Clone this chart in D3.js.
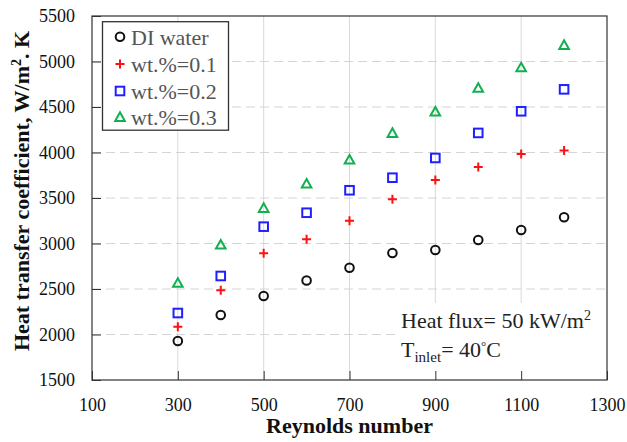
<!DOCTYPE html>
<html>
<head>
<meta charset="utf-8">
<script src="https://cdn.jsdelivr.net/npm/d3@7"></script>
<style>
  html, body { margin: 0; padding: 0; background: #fff; }
  svg { display: block; }
  svg text { font-family: 'Liberation Serif', 'Times New Roman', serif; }
</style>
</head>
<body>
<svg id="chart" width="627" height="442"></svg>
<script>
const reynolds = [300, 400, 500, 600, 700, 800, 900, 1000, 1100, 1200];
const diWater = [1928, 2214, 2423, 2594, 2734, 2896, 2929, 3038, 3148, 3288];
const wt01    = [2086, 2486, 2892, 3046, 3251, 3486, 3698, 3841, 3984, 4021];
const wt02    = [2236, 2643, 3185, 3338, 3585, 3723, 3940, 4215, 4453, 4694];
const wt03    = [2563, 2984, 3387, 3654, 3918, 4211, 4445, 4706, 4932, 5178];
const seriesNames = ["DI water", "wt.%=0.1", "wt.%=0.2", "wt.%=0.3"];
const xTicks = [100, 300, 500, 700, 900, 1100, 1300];
const yTicks = [1500, 2000, 2500, 3000, 3500, 4000, 4500, 5000, 5500];

const svg = d3.select("#chart");
const m = {left: 92, right: 607, top: 16, bottom: 380};
const x = d3.scaleLinear().domain([100, 1300]).range([m.left, m.right]);
const y = d3.scaleLinear().domain([1500, 5500]).range([m.bottom, m.top]);
const font = "'Liberation Serif', 'Times New Roman', serif";

// gridlines
svg.append("g").selectAll("line").data(xTicks.slice(1, -1)).join("line")
  .attr("x1", d => x(d)).attr("x2", d => x(d))
  .attr("y1", m.top).attr("y2", m.bottom)
  .attr("stroke", "#d9d9d9").attr("stroke-width", 1);
svg.append("g").selectAll("line").data(yTicks.slice(1, -1)).join("line")
  .attr("x1", m.left).attr("x2", m.right)
  .attr("y1", d => y(d)).attr("y2", d => y(d))
  .attr("stroke", "#d4d4d4").attr("stroke-width", 1)
  .attr("stroke-dasharray", "9,5");

// annotation background
svg.append("rect").attr("x", 395).attr("y", 303).attr("width", m.right - 396).attr("height", m.bottom - 304)
  .attr("fill", "#fff");

// axes (ticks inward)
const fmt = d3.format("d");
const xAxis = d3.axisBottom(x).tickValues(xTicks).tickFormat(fmt).tickSizeInner(-9).tickSizeOuter(0).tickPadding(20);
const gx = svg.append("g").attr("transform", `translate(0,${m.bottom})`).call(xAxis);
const yAxis = d3.axisLeft(y).tickValues(yTicks).tickFormat(fmt).tickSizeInner(-9).tickSizeOuter(0).tickPadding(17);
const gy = svg.append("g").attr("transform", `translate(${m.left},0)`).call(yAxis);
[gx, gy].forEach(g => {
  g.attr("font-family", font).attr("font-size", 18);
  g.select(".domain").remove();
  g.selectAll(".tick line").attr("stroke", "#333");
  g.selectAll(".tick text").style("font-family", font).attr("font-size", 18).attr("fill", "#111");
});
gx.selectAll(".tick text").attr("dy", "0.6em");

// frame
svg.append("rect").attr("x", m.left).attr("y", m.top)
  .attr("width", m.right - m.left).attr("height", m.bottom - m.top)
  .attr("fill", "none").attr("stroke", "#333").attr("stroke-width", 1.2);

// markers
function drawMarker(g, type, cx, cy) {
  if (type === 0) {
    g.append("circle").attr("cx", cx).attr("cy", cy).attr("r", 4.3)
      .attr("fill", "none").attr("stroke", "#111").attr("stroke-width", 2);
  } else if (type === 1) {
    g.append("path").attr("d", `M${cx-4.5},${cy}H${cx+4.5}M${cx},${cy-4.5}V${cy+4.5}`)
      .attr("stroke", "#ff1010").attr("stroke-width", 2).attr("fill", "none");
  } else if (type === 2) {
    g.append("rect").attr("x", cx - 4.3).attr("y", cy - 4.3).attr("width", 8.6).attr("height", 8.6)
      .attr("fill", "none").attr("stroke", "#2020ff").attr("stroke-width", 2);
  } else {
    g.append("path").attr("d", `M${cx},${cy-5}L${cx+4.8},${cy+3.6}L${cx-4.8},${cy+3.6}Z`)
      .attr("fill", "none").attr("stroke", "#10b050").attr("stroke-width", 2).attr("stroke-linejoin", "miter");
  }
}
const allSeries = [diWater, wt01, wt02, wt03];
const gm = svg.append("g");
allSeries.forEach((vals, si) => {
  vals.forEach((v, i) => drawMarker(gm, si, x(reynolds[i]), y(v)));
});

// legend
const lg = svg.append("g");
lg.append("rect").attr("x", 102.5).attr("y", 21.7).attr("width", 126).attr("height", 108.5)
  .attr("fill", "#fff").attr("stroke", "#333").attr("stroke-width", 1.3);
const rowY = [36.7, 64, 91, 117.3];
seriesNames.forEach((name, i) => {
  drawMarker(lg, i, 120, rowY[i]);
  lg.append("text").attr("x", 131).attr("y", rowY[i]).attr("dy", "0.36em")
    .attr("font-family", font).attr("font-size", 22).attr("fill", "#555").text(name);
});

// annotation
const t1 = svg.append("text").attr("x", 401).attr("y", 328)
  .attr("font-family", font).attr("font-size", 22).attr("fill", "#222");
t1.append("tspan").text("Heat flux= 50 kW/m");
t1.append("tspan").attr("font-size", 14).attr("dy", -8).text("2");
const t2 = svg.append("text").attr("x", 401).attr("y", 357)
  .attr("font-family", font).attr("font-size", 22).attr("fill", "#222");
t2.append("tspan").text("T");
t2.append("tspan").attr("font-size", 15).attr("dy", 5).text("inlet");
t2.append("tspan").attr("dy", -5).text("= 40");
t2.append("tspan").attr("font-size", 13).attr("dy", -7).text("°");
t2.append("tspan").attr("dy", 7).text("C");

// axis titles
svg.append("text").attr("x", (m.left + m.right) / 2).attr("y", 433)
  .attr("text-anchor", "middle").attr("font-family", font).attr("font-size", 22)
  .attr("font-weight", "bold").attr("fill", "#111").text("Reynolds number");
const yt = svg.append("text").attr("transform", "translate(29,191) rotate(-90)")
  .attr("text-anchor", "middle").attr("font-family", font).attr("font-size", 22)
  .attr("font-weight", "bold").attr("fill", "#111");
yt.append("tspan").text("Heat transfer coefficient, W/m");
yt.append("tspan").attr("font-size", 14).attr("dy", -8).text("2");
yt.append("tspan").attr("dy", 8).text(". K");
</script>
</body>
</html>
